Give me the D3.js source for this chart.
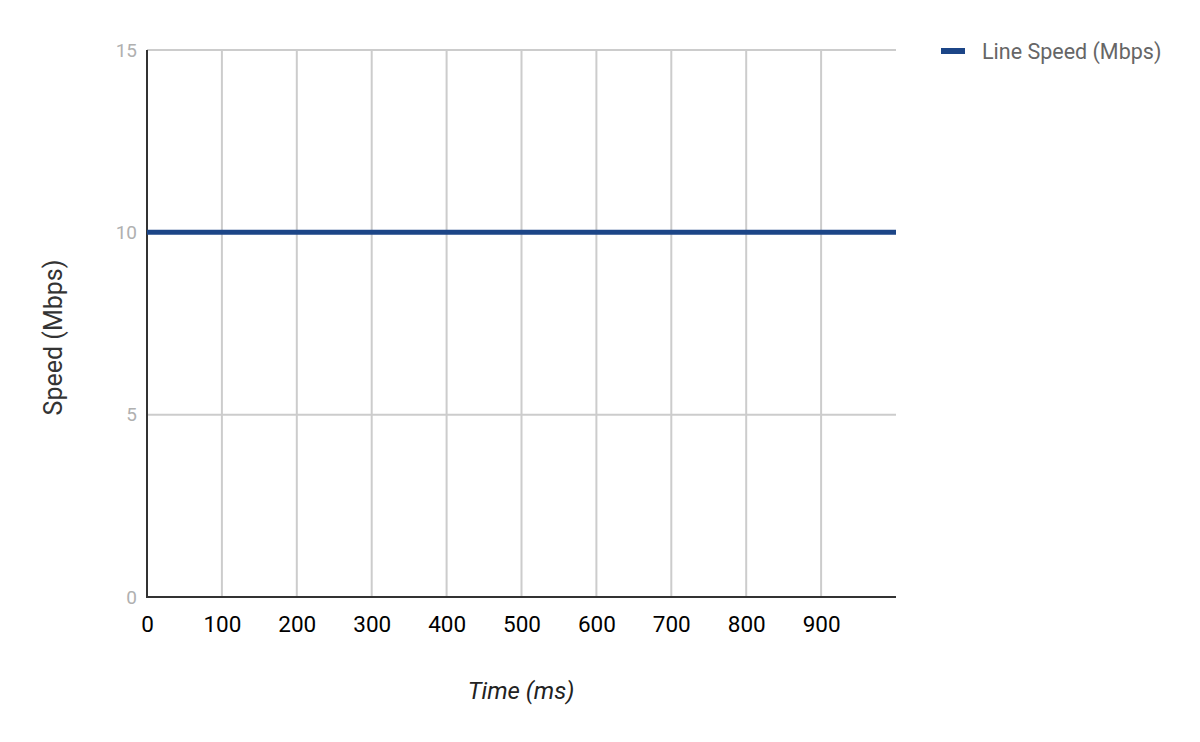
<!DOCTYPE html>
<html><head><meta charset="utf-8">
<script src="https://cdn.jsdelivr.net/npm/d3@7"></script>
<style>body{margin:0;background:#fff}svg{display:block;font-family:Roboto,sans-serif}</style>
</head><body><svg id="c" width="1200" height="742"></svg>
<script>
const timeMs = [0,100,200,300,400,500,600,700,800,900,1000];
const lineSpeed = [10,10,10,10,10,10,10,10,10,10,10];
const xTicks = [0,100,200,300,400,500,600,700,800,900];
const yTicks = [0,5,10,15];
const seriesName = "Line Speed (Mbps)";

const svg = d3.select("#c");
const m = {l:147, r:896, t:50, b:597};
const x = d3.scaleLinear().domain([0,1000]).range([m.l,m.r]);
const y = d3.scaleLinear().domain([0,15]).range([m.b,m.t]);

// grid
svg.append("g").selectAll("line").data(xTicks.slice(1)).join("line")
  .attr("x1",d=>x(d)).attr("x2",d=>x(d)).attr("y1",m.t).attr("y2",m.b)
  .attr("stroke","#cccccc").attr("stroke-width",2);
svg.append("g").selectAll("line").data(yTicks.slice(1)).join("line")
  .attr("x1",m.l).attr("x2",m.r).attr("y1",d=>y(d)).attr("y2",d=>y(d))
  .attr("stroke","#cccccc").attr("stroke-width",2);

// y axis labels
const ya = svg.append("g").attr("transform",`translate(${m.l},0)`)
  .call(d3.axisLeft(y).tickValues(yTicks).tickSize(0).tickPadding(10));
ya.select(".domain").remove();
ya.selectAll("text").attr("fill","#b0b0b0").style("font-size","19px").style("font-family","Roboto");

// x axis labels
const xa = svg.append("g").attr("transform",`translate(0,${m.b})`)
  .call(d3.axisBottom(x).tickValues(xTicks).tickSize(0).tickPadding(19).tickFormat(d3.format("d")));
xa.select(".domain").remove();
xa.selectAll("text").attr("fill","#000").style("font-size","22.5px").style("font-family","Roboto");

// axis lines
svg.append("line").attr("x1",m.l).attr("x2",m.l).attr("y1",m.t).attr("y2",m.b+1)
  .attr("stroke","#333").attr("stroke-width",2);
svg.append("line").attr("x1",m.l-1).attr("x2",m.r).attr("y1",m.b).attr("y2",m.b)
  .attr("stroke","#333").attr("stroke-width",2);

// series
const line = d3.line().x((d,i)=>x(timeMs[i])).y(d=>y(d));
svg.append("path").datum(lineSpeed).attr("d",line)
  .attr("fill","none").attr("stroke","#1c4587").attr("stroke-width",5);

// titles
svg.append("text").attr("transform",`translate(62,${(m.t+m.b)/2 + 14}) rotate(-90)`)
  .attr("text-anchor","middle").attr("fill","#333").style("font-size","25px").text("Speed (Mbps)");
svg.append("text").attr("x",521).attr("y",699).attr("text-anchor","middle")
  .attr("fill","#222").style("font-size","24px").style("font-style","italic").text("Time (ms)");

// legend
svg.append("rect").attr("x",941).attr("y",48).attr("width",24).attr("height",6).attr("fill","#1c4587");
svg.append("text").attr("x",982).attr("y",59).attr("fill","#666").style("font-size","21.5px").text(seriesName);
</script></body></html>
